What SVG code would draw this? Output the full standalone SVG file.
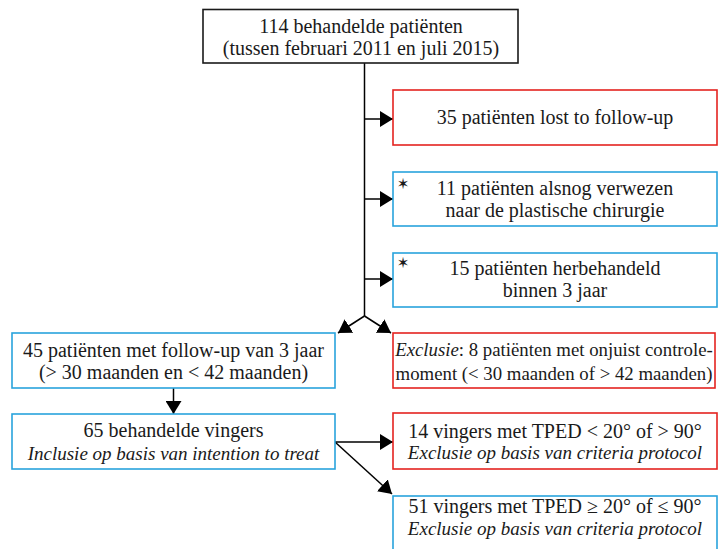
<svg xmlns="http://www.w3.org/2000/svg" width="726" height="549" viewBox="0 0 726 549">
<style>
.box{fill:#fff;stroke-width:1.6}
.k{stroke:#1a1a1a}
.r{stroke:#e42320}
.b{stroke:#29a3dc}
text{font-family:"Liberation Serif","Times New Roman",serif;font-size:20px;fill:#1a1a1a;text-anchor:middle}
.i{font-style:italic;font-size:19px}
.s{font-size:18.8px}
.star{font-family:"DejaVu Sans",sans-serif;font-size:15px;text-anchor:middle}
.c{stroke:#000;stroke-width:1.5;fill:none}
</style>
<defs>
<marker id="ah" markerUnits="userSpaceOnUse" markerWidth="14" markerHeight="16" refX="13" refY="8" orient="auto" viewBox="0 0 14 16">
<path d="M0,0 L13,8 L0,16 z" fill="#000"/>
</marker>
</defs>
<g id="connectors">
<path class="c" d="M364.5,63 V316"/>
<path class="c" d="M364.5,119 H393" marker-end="url(#ah)"/>
<path class="c" d="M364.5,199 H393" marker-end="url(#ah)"/>
<path class="c" d="M364.5,279 H393" marker-end="url(#ah)"/>
<path class="c" d="M364.5,316 L338,333" marker-end="url(#ah)"/>
<path class="c" d="M364.5,316 L391,333" marker-end="url(#ah)"/>
<path class="c" d="M173.5,388 V414" marker-end="url(#ah)"/>
<path class="c" d="M335,442 H393" marker-end="url(#ah)"/>
<path class="c" d="M335,442 L392,494" marker-end="url(#ah)"/>
</g>
<g id="n_start">
<rect class="box k" x="203" y="9.5" width="315" height="53.5"/>
<text x="361" y="33">114 behandelde patiënten</text>
<text x="361" y="55">(tussen februari 2011 en juli 2015)</text>
</g>
<g id="n_lost">
<rect class="box r" x="393" y="90" width="324" height="55"/>
<text x="555" y="124">35 patiënten lost to follow-up</text>
</g>
<g id="n_plastic">
<rect class="box b" x="393" y="172" width="324" height="54"/>
<text class="star" x="403" y="189">✶</text>
<text x="555" y="195">11 patiënten alsnog verwezen</text>
<text x="555" y="217">naar de plastische chirurgie</text>
</g>
<g id="n_retreat">
<rect class="box b" x="393" y="253" width="324" height="54"/>
<text class="star" x="403" y="268">✶</text>
<text x="555" y="275">15 patiënten herbehandeld</text>
<text x="555" y="297">binnen 3 jaar</text>
</g>
<g id="n_followup">
<rect class="box b" x="12" y="333" width="323" height="55"/>
<text x="173.5" y="357">45 patiënten met follow-up van 3 jaar</text>
<text x="173.5" y="379">(&gt; 30 maanden en &lt; 42 maanden)</text>
</g>
<g id="n_exclusie">
<rect class="box r" x="393" y="333" width="322" height="55"/>
<text class="s" x="554" y="356"><tspan font-style="italic">Exclusie</tspan>: 8 patiënten met onjuist controle-</text>
<text class="s" x="554" y="380">moment (&lt; 30 maanden of &gt; 42 maanden)</text>
</g>
<g id="n_fingers">
<rect class="box b" x="12" y="414" width="323" height="55"/>
<text x="173.5" y="437">65 behandelde vingers</text>
<text class="i" x="173.5" y="460">Inclusie op basis van intention to treat</text>
</g>
<g id="n_excl14">
<rect class="box r" x="393" y="413" width="324" height="56"/>
<text x="555" y="438">14 vingers met TPED &lt; 20° of &gt; 90°</text>
<text class="i" x="555" y="459">Exclusie op basis van criteria protocol</text>
</g>
<g id="n_incl51">
<rect class="box b" x="393" y="496" width="324" height="60"/>
<text x="555" y="513">51 vingers met TPED ≥ 20° of ≤ 90°</text>
<text class="i" x="555" y="535">Exclusie op basis van criteria protocol</text>
</g>
</svg>
